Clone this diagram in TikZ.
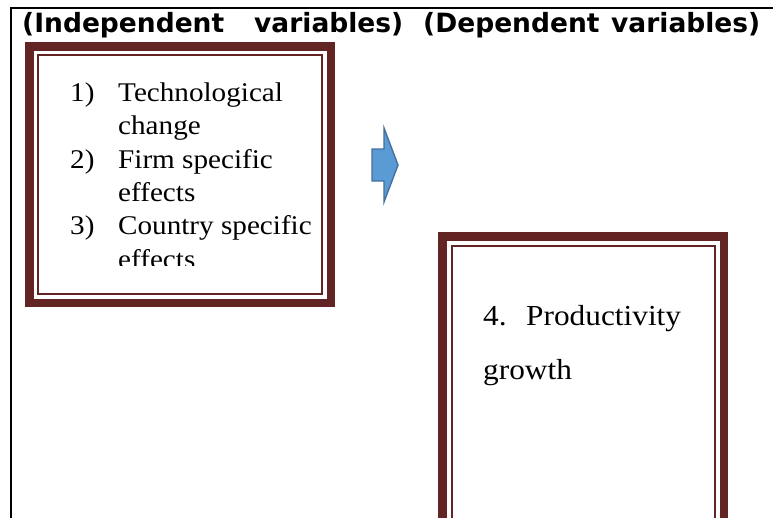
\documentclass[tikz,border=0pt]{standalone}
\usepackage{fontspec}
\usepackage{graphicx}
\setmainfont{Liberation Serif}
\newfontfamily\headfont{DejaVu Sans}
\usetikzlibrary{positioning}
\definecolor{frameBrown}{HTML}{632523}
\definecolor{arrowFill}{HTML}{5B9BD5}
\definecolor{arrowEdge}{HTML}{41719C}
\newcommand{\widen}[1]{\scalebox{1.08}[1]{#1}}
\tikzset{
  outerframe/.style={draw=black, line width=2pt},
  varbox/.style={draw=frameBrown, line width=8.5pt, fill=white, rectangle, inner sep=0pt, outer sep=0pt},
  innerline/.style={draw=frameBrown, line width=2pt},
  heading/.style={anchor=base west, inner sep=0pt, font=\headfont\bfseries\fontsize{26.5}{30}\selectfont},
  listtext/.style={anchor=base west, inner sep=0pt, font=\fontsize{27}{33}\selectfont},
  outtext/.style={anchor=base west, inner sep=0pt, font=\fontsize{29}{35}\selectfont},
  blockarrow/.style={fill=arrowFill, draw=arrowEdge, line width=1.4pt, line join=miter}
}
\begin{document}
\begin{tikzpicture}[x=1pt, y=-1pt]
\useasboundingbox (0,0) rectangle (773,517);
\clip (0,0) rectangle (773,517);
\fill[white] (0,0) rectangle (773,517);

% page frame: left and top rules
\draw[outerframe] (11,520) -- (11,7.5) -- (776,7.5);

% heading line
\node[heading] (h1) at (22,32) {(Independent};
\node[heading] (h2) at (254,32) {variables)};
\node[heading] (h3) at (423,32) {(Dependent};
\node[heading] (h4) at (611,32) {variables)};

% independent variables box
\node[varbox, minimum width=301.5pt, minimum height=256.5pt] (L) at (180,174.5) {};
\draw[innerline] ([xshift=8.75pt,yshift=-8.75pt]L.north west)
  rectangle ([xshift=-8.75pt,yshift=8.75pt]L.south east);

\node[listtext] (n1) at (70,101.5) {\widen{1)}};
\node[listtext] (t1a) at (118,101.5) {\widen{Technological}};
\node[listtext] (t1b) at (118,134.8) {\widen{change}};
\node[listtext] (n2) at (70,168.1) {\widen{2)}};
\node[listtext] (t2a) at (118,168.1) {\widen{Firm specific}};
\node[listtext] (t2b) at (118,201.4) {\widen{effects}};
\node[listtext] (n3) at (70,234.7) {\widen{3)}};
\node[listtext] (t3a) at (118,234.7) {\widen{Country specific}};
\begin{scope}
  \clip (40,240) rectangle (320,265.5);
  \node[listtext] (t3b) at (118,268) {\widen{effects}};
\end{scope}

% block arrow
\draw[blockarrow] (372,149) -- (384,149) -- (384,128) -- (398,165)
  -- (384,202) -- (384,181) -- (372,181) -- cycle;

% dependent variable box
\node[varbox, minimum width=281.5pt, minimum height=300pt] (R) at (583,386.25) {};
\draw[innerline] ([xshift=9.25pt,yshift=-9.25pt]R.north west)
  rectangle ([xshift=-9.25pt,yshift=9.25pt]R.south east);

\node[outtext] (n4) at (483,325) {\widen{4.}};
\node[outtext] (t4a) at (526,325) {\widen{Productivity}};
\node[outtext] (t4b) at (483,379) {\widen{growth}};
\end{tikzpicture}
\end{document}
